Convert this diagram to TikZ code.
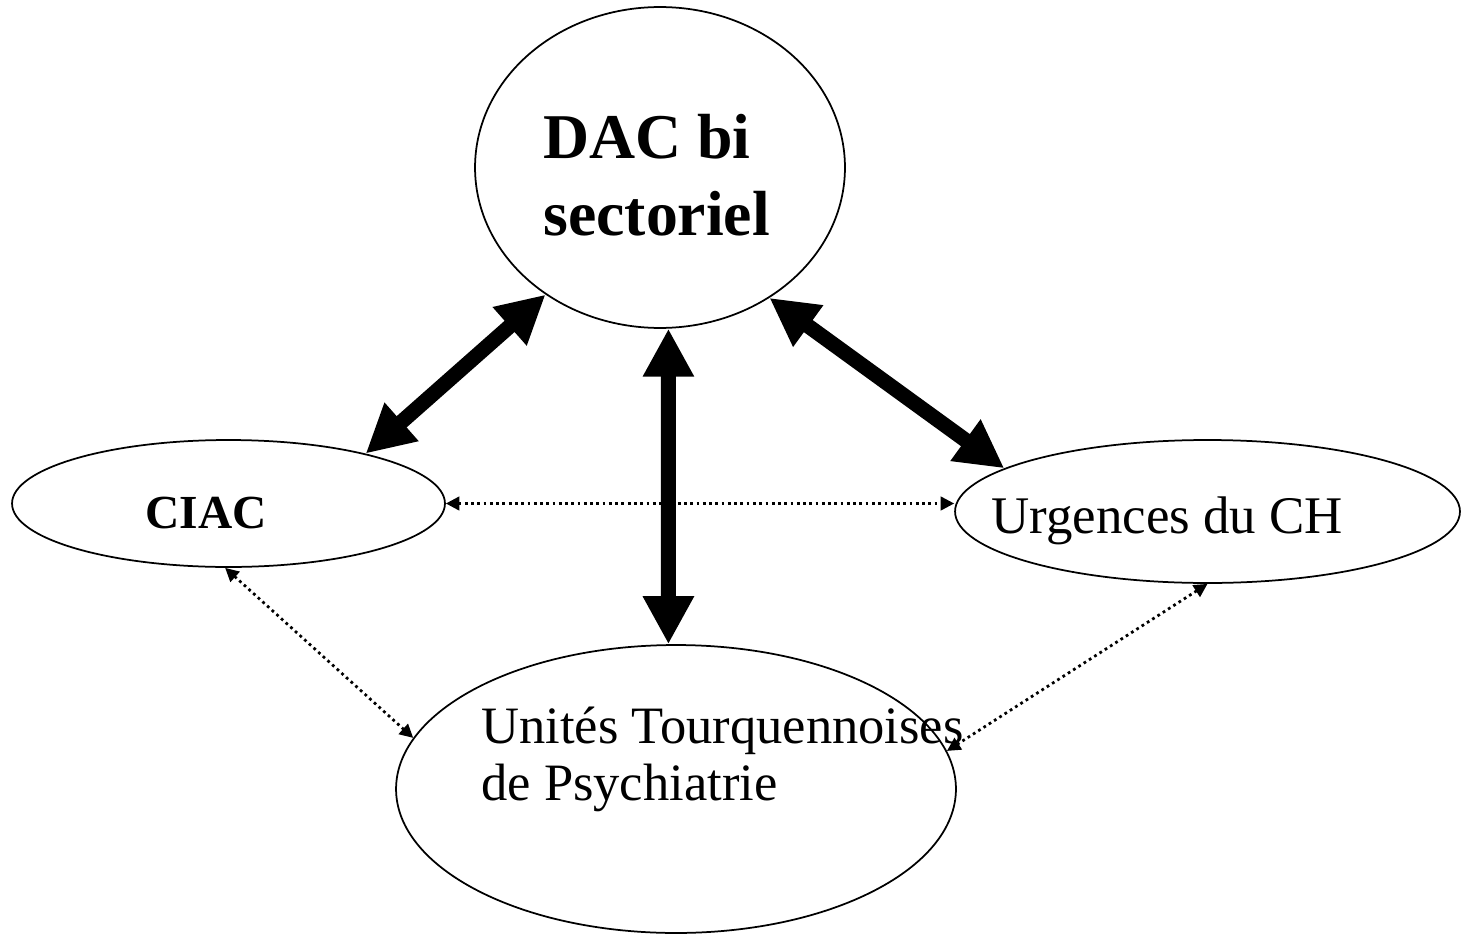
\documentclass[tikz,border=0pt]{standalone}
\usepackage{fontspec}
\setmainfont{Liberation Serif}
\usetikzlibrary{shapes.geometric,arrows.meta}

\begin{document}
\begin{tikzpicture}[x=0.02cm,y=-0.02cm,
  bulle/.style={draw,ellipse,line width=0.035cm,inner sep=0pt},
  fort/.style={line width=0.3cm,
    {Triangle[length=0.96cm,width=0.96cm]}-{Triangle[length=0.96cm,width=0.96cm]}},
  lien/.style={line width=0.055cm,dotted,
    {Triangle[length=0.27cm,width=0.27cm]}-{Triangle[length=0.27cm,width=0.27cm]}},
  txt/.style={inner sep=0pt,anchor=base west,align=left}]
\useasboundingbox (0,0) rectangle (1470,936);
\node[bulle,minimum width=7.4cm,minimum height=6.42cm] (dac) at (660,167.5) {};
\node[bulle,minimum width=8.66cm,minimum height=2.54cm] (ciac) at (228.5,503.5) {};
\node[bulle,minimum width=10.1cm,minimum height=2.86cm] (urg) at (1207.5,511.5) {};
\node[bulle,minimum width=11.2cm,minimum height=5.76cm] (utp) at (676,789) {};
\node[txt,font=\bfseries\fontsize{36.3}{43.6}\selectfont] (dactxt) at (543,235) {DAC bi\\sectoriel};
\node[txt,font=\bfseries\fontsize{27}{32}\selectfont] (ciactxt) at (145,528) {CIAC};
\node[txt,font=\fontsize{30.1}{34}\selectfont] (urgtxt) at (991,533) {Urgences du CH};
\node[txt,font=\fontsize{29.9}{32.3}\selectfont] (utptxt) at (481,800) {Unités Tourquennoises\\de Psychiatrie};
\draw[fort] (ciac.20.2) -- (dac.-132.8);
\draw[fort] (dac.-50.7) -- (urg.168.6);
\draw[fort] (dac.-87.5) -- (utp.93.6);
\draw[lien] (ciac.east) -- (urg.west |- ciac.east);
\draw[lien] (ciac.-93) -- (utp.169.9);
\draw[lien] (urg.south) -- (utp.8.8);
\end{tikzpicture}
\end{document}
